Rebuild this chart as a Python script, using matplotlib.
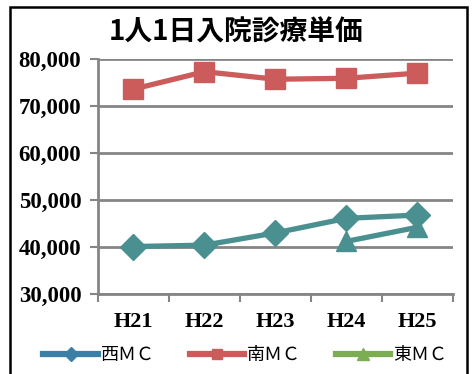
import matplotlib.pyplot as plt
from matplotlib.lines import Line2D
from matplotlib.patches import Rectangle

# 年度と各センターの1人1日入院診療単価（円）
years = ['H21', 'H22', 'H23', 'H24', 'H25']
west = [40100, 40400, 43000, 46100, 46800]
south = [73600, 77300, 75700, 75900, 77000]
east_years = ['H24', 'H25']
east = [41200, 44200]

teal = '#4a9090'
red = '#cc5b5b'
grid_gray = '#858585'

plt.rcParams['font.family'] = ['Noto Sans CJK JP', 'DejaVu Sans']

fig = plt.figure(figsize=(4.72, 3.74), dpi=100)
ax = fig.add_axes([0.2076, 0.2139, 0.752, 0.6283])

x = list(range(len(years)))
ex = [years.index(y) for y in east_years]
ax.plot(x, west, color=teal, lw=3.8, marker='D', ms=13, zorder=3)
ax.plot(x, south, color=red, lw=3.8, marker='s', ms=14, zorder=3)
ax.plot(ex, east, color=teal, lw=3.8, marker='^', ms=15, zorder=3)

ax.set_xlim(-0.5, len(years) - 0.5)
ax.set_ylim(30000, 80000)
ax.set_yticks(range(30000, 80001, 10000))
ax.set_yticklabels([f'{v:,}' for v in range(30000, 80001, 10000)],
                   family='Liberation Serif', fontweight='bold', fontsize=16.5)
ax.set_xticks(x)
ax.set_xticklabels(years, family='Liberation Serif', fontweight='bold', fontsize=16)
ax.set_xticks([i - 0.5 for i in range(len(years) + 1)], minor=True)
ax.tick_params(axis='x', which='major', length=0, pad=13)
ax.tick_params(axis='x', which='minor', length=6, width=1.5, color=grid_gray)
ax.tick_params(axis='y', length=6, width=1.5, color=grid_gray, pad=6)
ax.grid(axis='y', color=grid_gray, lw=2)
ax.set_axisbelow(True)
for side in ['top', 'right']:
    ax.spines[side].set_visible(False)
for side in ['left', 'bottom']:
    ax.spines[side].set_color(grid_gray)
    ax.spines[side].set_linewidth(2)

fig.text(0.5, 0.914, '1人1日入院診療単価', ha='center', va='center',
         fontsize=20, fontweight='bold')

handles = [
    Line2D([], [], color='#3b7ea6', lw=4.5, marker='D', ms=7),
    Line2D([], [], color=red, lw=4.5, marker='s', ms=7),
    Line2D([], [], color='#7cad52', lw=4.5, marker='^', ms=8),
]
fig.legend(handles, ['西ＭＣ', '南ＭＣ', '東ＭＣ'], loc='center',
           bbox_to_anchor=(0.52, 0.05), ncol=3, frameon=False,
           prop={'size': 13}, handlelength=3.0, handletextpad=0.2,
           columnspacing=1.9)

# 外枠
fig.patches.append(Rectangle((10 / 472, -0.01), 457 / 472, 1 - 7 / 374 + 0.01,
                             transform=fig.transFigure, fill=False,
                             edgecolor='black', lw=1.8))

fig.savefig('out.png', dpi=100)
